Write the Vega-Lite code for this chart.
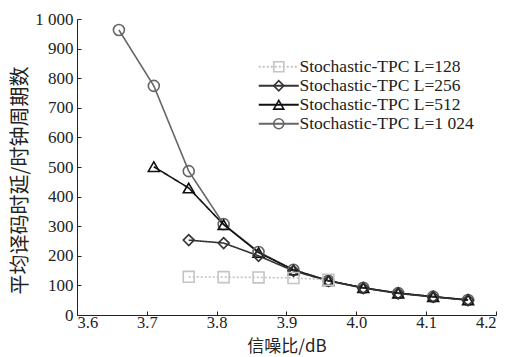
{
  "$schema": "https://vega.github.io/schema/vega-lite/v6.json",
  "width": 419,
  "height": 296,
  "autosize": {"type": "none"},
  "padding": {"left": 77, "top": 19, "right": 12, "bottom": 42},
  "background": "white",
  "config": {
    "view": {"stroke": null},
    "axis": {
      "domainColor": "#222",
      "tickColor": "#222",
      "grid": false,
      "labelFont": "Liberation Serif, Times New Roman, serif",
      "labelFontSize": 17,
      "labelColor": "#222",
      "titleFont": "Noto Sans CJK SC",
      "titleFontWeight": "normal",
      "titleColor": "#222",
      "tickSize": -4
    }
  },
  "data": {
    "values": [
      {"series": "Stochastic-TPC L=1 024", "marker": "m1024", "snr": 3.66, "delay": 963},
      {"series": "Stochastic-TPC L=1 024", "marker": "m1024", "snr": 3.71, "delay": 774},
      {"series": "Stochastic-TPC L=1 024", "marker": "m1024", "snr": 3.76, "delay": 486},
      {"series": "Stochastic-TPC L=1 024", "marker": "m1024", "snr": 3.81, "delay": 307},
      {"series": "Stochastic-TPC L=1 024", "marker": "m1024", "snr": 3.86, "delay": 213},
      {"series": "Stochastic-TPC L=1 024", "marker": "m1024", "snr": 3.91, "delay": 153},
      {"series": "Stochastic-TPC L=1 024", "marker": "m1024", "snr": 3.96, "delay": 116},
      {"series": "Stochastic-TPC L=1 024", "marker": "m1024", "snr": 4.01, "delay": 92},
      {"series": "Stochastic-TPC L=1 024", "marker": "m1024", "snr": 4.06, "delay": 74},
      {"series": "Stochastic-TPC L=1 024", "marker": "m1024", "snr": 4.11, "delay": 62},
      {"series": "Stochastic-TPC L=1 024", "marker": "m1024", "snr": 4.16, "delay": 51},
      {"series": "Stochastic-TPC L=512", "marker": "m512", "snr": 3.71, "delay": 501},
      {"series": "Stochastic-TPC L=512", "marker": "m512", "snr": 3.76, "delay": 429},
      {"series": "Stochastic-TPC L=512", "marker": "m512", "snr": 3.81, "delay": 305},
      {"series": "Stochastic-TPC L=512", "marker": "m512", "snr": 3.86, "delay": 211},
      {"series": "Stochastic-TPC L=512", "marker": "m512", "snr": 3.91, "delay": 152},
      {"series": "Stochastic-TPC L=512", "marker": "m512", "snr": 3.96, "delay": 116},
      {"series": "Stochastic-TPC L=512", "marker": "m512", "snr": 4.01, "delay": 92},
      {"series": "Stochastic-TPC L=512", "marker": "m512", "snr": 4.06, "delay": 74},
      {"series": "Stochastic-TPC L=512", "marker": "m512", "snr": 4.11, "delay": 62},
      {"series": "Stochastic-TPC L=512", "marker": "m512", "snr": 4.16, "delay": 51},
      {"series": "Stochastic-TPC L=256", "marker": "m256", "snr": 3.76, "delay": 253},
      {"series": "Stochastic-TPC L=256", "marker": "m256", "snr": 3.81, "delay": 243},
      {"series": "Stochastic-TPC L=256", "marker": "m256", "snr": 3.86, "delay": 200},
      {"series": "Stochastic-TPC L=256", "marker": "m256", "snr": 3.91, "delay": 149},
      {"series": "Stochastic-TPC L=256", "marker": "m256", "snr": 3.96, "delay": 115},
      {"series": "Stochastic-TPC L=256", "marker": "m256", "snr": 4.01, "delay": 91},
      {"series": "Stochastic-TPC L=256", "marker": "m256", "snr": 4.06, "delay": 73},
      {"series": "Stochastic-TPC L=256", "marker": "m256", "snr": 4.11, "delay": 61},
      {"series": "Stochastic-TPC L=256", "marker": "m256", "snr": 4.16, "delay": 50},
      {"series": "Stochastic-TPC L=128", "marker": "m128", "snr": 3.76, "delay": 129},
      {"series": "Stochastic-TPC L=128", "marker": "m128", "snr": 3.81, "delay": 128},
      {"series": "Stochastic-TPC L=128", "marker": "m128", "snr": 3.86, "delay": 127},
      {"series": "Stochastic-TPC L=128", "marker": "m128", "snr": 3.91, "delay": 125},
      {"series": "Stochastic-TPC L=128", "marker": "m128", "snr": 3.96, "delay": 119}
    ]
  },
  "encoding": {
    "x": {
      "field": "snr", "type": "quantitative",
      "scale": {"domain": [3.6, 4.2], "nice": false, "zero": false},
      "axis": {"values": [3.6, 3.7, 3.8, 3.9, 4.0, 4.1, 4.2], "format": ".1f", "title": "信噪比/dB", "titleFontSize": 17, "titleY": 23, "titleBaseline": "top", "labelFontSize": 16.5, "labelPadding": 3}
    },
    "y": {
      "field": "delay", "type": "quantitative",
      "scale": {"domain": [0, 1000], "nice": false},
      "axis": {"values": [0, 100, 200, 300, 400, 500, 600, 700, 800, 900, 1000], "labelExpr": "datum.value == 1000 ? '1 000' : datum.label", "title": "平均译码时延/时钟周期数", "titleFontSize": 20, "titleY": 161, "labelPadding": 8, "titlePadding": 4}
    }
  },
  "layer": [
    {
      "mark": {"type": "line", "strokeWidth": 1.6},
      "encoding": {
        "color": {
          "field": "series", "type": "nominal",
          "scale": {"domain": ["Stochastic-TPC L=128", "Stochastic-TPC L=256", "Stochastic-TPC L=512", "Stochastic-TPC L=1 024"], "range": ["#c4c4c4", "#333333", "#111111", "#666666"]},
          "legend": {
            "orient": "none", "legendX": 193, "legendY": 39, "title": null,
            "symbolType": "M-4,0H4", "symbolSize": 100, "symbolStrokeWidth": 2,
            "labelFont": "Liberation Serif, Times New Roman, serif", "labelFontSize": 17.5, "labelColor": "#222", "labelLimit": 0,
            "rowPadding": 0, "labelOffset": 12, "padding": 0
          }
        },
        "strokeDash": {
          "field": "series", "type": "nominal",
          "scale": {"domain": ["Stochastic-TPC L=128", "Stochastic-TPC L=256", "Stochastic-TPC L=512", "Stochastic-TPC L=1 024"], "range": [[2, 2], [1, 0], [1, 0], [1, 0]]}
        }
      }
    },
    {
      "mark": {"type": "point", "filled": false, "strokeWidth": 1.6, "size": 120, "opacity": 1},
      "encoding": {
        "stroke": {
          "field": "marker", "type": "nominal",
          "scale": {"domain": ["m128", "m256", "m512", "m1024"], "range": ["#c4c4c4", "#333333", "#111111", "#666666"]}
        },
        "shape": {
          "field": "marker", "type": "nominal",
          "scale": {"domain": ["m128", "m256", "m512", "m1024"], "range": ["square", "diamond", "triangle-up", "circle"]},
          "legend": {
            "orient": "none", "legendX": 193, "legendY": 39, "title": null,
            "symbolSize": 100, "symbolStrokeWidth": 1.6, "symbolFillColor": "white",
            "labelExpr": "''", "labelFontSize": 17.5,
            "rowPadding": 0, "padding": 0
          }
        }
      }
    }
  ]
}
